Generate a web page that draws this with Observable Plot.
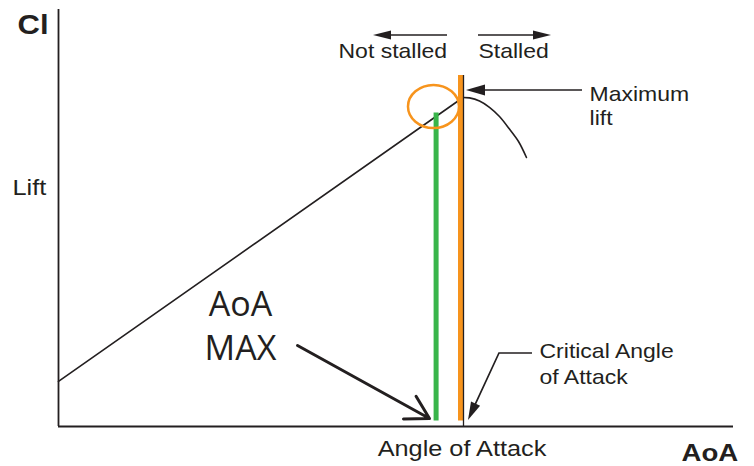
<!DOCTYPE html>
<html><head><meta charset="utf-8">
<script src="https://cdn.jsdelivr.net/npm/d3@7"></script>
<script src="https://cdn.jsdelivr.net/npm/@observablehq/plot@0.6"></script>
<style>body{margin:0;background:#fff;overflow:hidden}</style>
</head><body><div id="chart"></div>
<script>
// ---- data (arbitrary AoA / Cl units, 0–100) ----
const preStallAoA = [0, 59.4];
const preStallCl = [10.8, 78.3];
const postStallAoA = [60.0, 60.89, 62.37, 63.85, 65.33, 66.81, 68.15, 69.33];
const postStallCl = [78.9, 78.8, 78.06, 76.55, 74.34, 71.32, 68.35, 64.51];
const aoaMax = 55.94, clAtAoaMax = 75.18;
const criticalAoA = 60.0, criticalTop = 84.17;
const barBottom = 1.3;
const highlight = {aoa: 55.63, cl: 76.62, rAoa: 3.78, rCl: 5.16};

// annotation arrows: [aoa, cl] points, last one is the tip
const notStalledArrow = [[57.63, 93.76], [46.67, 93.76]];
const stalledArrow = [[62.22, 93.76], [73.04, 93.76]];
const maxLiftArrow = [[77.63, 80.58], [60.44, 80.58]];
const criticalArrow = [[70.22, 17.51], [65.33, 17.51], [60.74, 1.44]];
const aoaMaxArrow = [{x1: 35.41, y1: 19.42, x2: 54.96, y2: 1.92}];

// labels
const labels = [
  {text: "Cl", aoa: -6.07, cl: 94.24, size: 27, weight: "bold", anchor: "start"},
  {text: "Lift", aoa: -6.81, cl: 55.4, size: 22, weight: "normal", anchor: "start"},
  {text: "Not stalled", aoa: 41.48, cl: 88.25, size: 20, weight: "normal", anchor: "start"},
  {text: "Stalled", aoa: 62.22, cl: 88.25, size: 20, weight: "normal", anchor: "start"},
  {text: "Angle of Attack", aoa: 59.78, cl: -7.19, size: 22, weight: "normal", anchor: "middle"},
  {text: "AoA", aoa: 92.3, cl: -8.3, size: 24, weight: "bold", anchor: "start"}
];
const maxLiftLabel = {text: "Maximum\nlift", aoa: 78.67, cl: 72.42};
const criticalLabel = {text: "Critical Angle\nof Attack", aoa: 71.26, cl: 10.31};
const aoaMaxLabel = {text: "AoA\nMAX", aoa: 26.96, cl: 15.83};

const INK = "#231f20", ORANGE = "#f7941d", GREEN = "#39b54a";
const preStall = preStallAoA.map((a, i) => ({aoa: a, cl: preStallCl[i]}));
const postStall = postStallAoA.map((a, i) => ({aoa: a, cl: postStallCl[i]}));

function getScales(args) {
  return [...args].find(a => a && typeof a.x === "function" && typeof a.y === "function");
}
function filledArrows(arrows, {headLength = 18, headWidth = 8, strokeWidth = 1.5} = {}) {
  return function () {
    const sc = getScales(arguments);
    const ns = "http://www.w3.org/2000/svg";
    const g = document.createElementNS(ns, "g");
    for (const arr of arrows) {
      const pts = arr.map(([x, y]) => [sc.x(x), sc.y(y)]);
      const [x1, y1] = pts[pts.length - 2], [x2, y2] = pts[pts.length - 1];
      const ang = Math.atan2(y2 - y1, x2 - x1);
      const c = Math.cos(ang), s = Math.sin(ang);
      const bx = x2 - headLength * c, by = y2 - headLength * s;
      const shaft = pts.slice(0, -1).concat([[bx + 2 * c, by + 2 * s]]);
      const p = document.createElementNS(ns, "path");
      p.setAttribute("d", "M" + shaft.map(q => q.join(",")).join("L"));
      p.setAttribute("fill", "none");
      p.setAttribute("stroke", INK);
      p.setAttribute("stroke-width", strokeWidth);
      g.appendChild(p);
      const h = headWidth / 2;
      const t = document.createElementNS(ns, "path");
      t.setAttribute("d", `M${x2},${y2}L${bx - h * s},${by + h * c}L${bx + h * s},${by - h * c}Z`);
      t.setAttribute("fill", INK);
      g.appendChild(t);
    }
    return g;
  };
}
function ellipseMark(e) {
  return function () {
    const sc = getScales(arguments);
    const ns = "http://www.w3.org/2000/svg";
    const el = document.createElementNS(ns, "ellipse");
    const cx = sc.x(e.aoa), cy = sc.y(e.cl);
    el.setAttribute("cx", cx);
    el.setAttribute("cy", cy);
    el.setAttribute("rx", Math.abs(sc.x(e.aoa + e.rAoa) - cx));
    el.setAttribute("ry", Math.abs(sc.y(e.cl + e.rCl) - cy));
    el.setAttribute("fill", "none");
    el.setAttribute("stroke", ORANGE);
    el.setAttribute("stroke-width", 2.5);
    return el;
  };
}

const SANS = "Liberation Sans, Arial, Helvetica, sans-serif";
const chart = Plot.plot({
  width: 754, height: 466,
  marginLeft: 58, marginRight: 21, marginTop: 9, marginBottom: 40,
  x: {domain: [0, 100], axis: null},
  y: {domain: [0, 100], axis: null},
  marks: [
    Plot.ruleX([0], {y1: 0, y2: 100, stroke: INK, strokeWidth: 1.8}),
    Plot.ruleY([0], {x1: 0, x2: 100, stroke: INK, strokeWidth: 1.8}),
    Plot.line(preStall, {x: "aoa", y: "cl", stroke: INK, strokeWidth: 1.6}),
    Plot.line(postStall, {x: "aoa", y: "cl", stroke: INK, strokeWidth: 1.6, curve: "catmull-rom"}),
    Plot.ruleX([aoaMax], {y1: barBottom, y2: clAtAoaMax, stroke: GREEN, strokeWidth: 5}),
    Plot.ruleX([criticalAoA], {y1: barBottom, y2: criticalTop, stroke: ORANGE, strokeWidth: 5, dx: -3}),
    Plot.ruleX([criticalAoA], {y1: 0, y2: criticalTop, stroke: INK, strokeWidth: 1.3}),
    ellipseMark(highlight),
    filledArrows([notStalledArrow, stalledArrow], {headLength: 18, headWidth: 9, strokeWidth: 1.7}),
    filledArrows([maxLiftArrow], {headLength: 19, headWidth: 11, strokeWidth: 1.7}),
    filledArrows([criticalArrow], {headLength: 18, headWidth: 10, strokeWidth: 1.7}),
    Plot.arrow(aoaMaxArrow, {x1: "x1", y1: "y1", x2: "x2", y2: "y2", stroke: INK, strokeWidth: 3, headLength: 13, headAngle: 60}),
    ...labels.map(l => Plot.text([l], {x: "aoa", y: "cl", text: "text", fontSize: l.size, fontWeight: l.weight,
      textAnchor: l.anchor, lineAnchor: "bottom", fill: INK, fontFamily: SANS})),
    Plot.text([maxLiftLabel], {x: "aoa", y: "cl", text: "text", fontSize: 20, lineHeight: 1.2,
      textAnchor: "start", lineAnchor: "bottom", fill: INK, fontFamily: SANS}),
    Plot.text([criticalLabel], {x: "aoa", y: "cl", text: "text", fontSize: 20, lineHeight: 1.27,
      textAnchor: "start", lineAnchor: "bottom", fill: INK, fontFamily: SANS}),
    Plot.text([aoaMaxLabel], {x: "aoa", y: "cl", text: "text", fontSize: 34, lineHeight: 1.3,
      textAnchor: "middle", lineAnchor: "bottom", fill: INK, fontFamily: "Open Sans, sans-serif"})
  ]
});

// the reference lettering is horizontally wider than Arial: stretch the sans labels
chart.querySelectorAll("text").forEach(t => {
  const fam = (t.closest("[font-family]") || t).getAttribute("font-family") || "";
  if (!fam.startsWith("Liberation")) return;
  const tr = t.getAttribute("transform");
  if (tr) t.setAttribute("transform", tr + " scale(1.15,1)");
  else {
    const x = t.getAttribute("x") || 0, y = t.getAttribute("y") || 0;
    t.removeAttribute("x"); t.removeAttribute("y");
    t.setAttribute("transform", `translate(${x},${y}) scale(1.15,1)`);
  }
});
document.getElementById("chart").appendChild(chart);
</script>
</body></html>
